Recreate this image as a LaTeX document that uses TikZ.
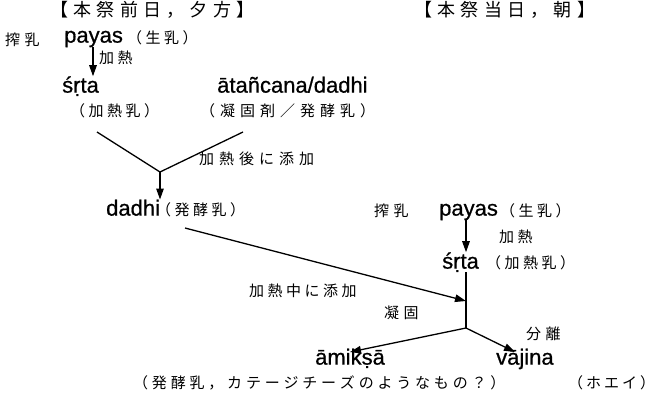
\documentclass[tikz,border=0pt]{standalone}
\usepackage{fontspec}
\setmainfont{Liberation Sans}
\newfontfamily\latfont[FakeBold=0.7]{Liberation Sans}
\newfontfamily\jpfont{Noto Sans CJK JP}
\usetikzlibrary{arrows.meta}
\newcommand\spgap{0pt}
\def\sploopA#1{#1\sploopB}
\def\sploopB#1{\ifx#1\relax\else\hspace{\spgap}#1\expandafter\sploopB\fi}
\newcommand\jsp[2]{\renewcommand\spgap{#2}\sploopA#1\relax}
\tikzset{
  lat/.style={font=\latfont\fontsize{22}{22}\selectfont, inner sep=0pt, anchor=mid west},
  jp/.style={font=\jpfont\fontsize{15}{15}\selectfont, inner sep=0pt, anchor=mid west},
  ttl/.style={font=\jpfont\fontsize{18}{18}\selectfont, inner sep=0pt, anchor=mid west},
  conn/.style={line width=1.3pt},
  arr/.style={conn, -{Triangle[length=11pt,width=7.5pt]}},
}
\begin{document}
\begin{tikzpicture}[x=1pt,y=-1pt]
\useasboundingbox (0,0) rectangle (656,400);
% titles
\node[ttl] (t1) at (50,14) {\jsp{【本祭前日，夕方】}{5.3pt}};
\node[ttl] (t2) at (414,14) {\jsp{【本祭当日，朝】}{5.3pt}};
% left column
\node[jp] (m1) at (5,43) {\jsp{搾乳}{4.5pt}};
\node[lat] (p1) at (64,40) {payas};
\node[jp] (r1) at (127,41) {\jsp{（生乳）}{3.5pt}};
\node[jp] (h1) at (99,61) {\jsp{加熱}{3.5pt}};
\node[lat] (s1) at (62,90) {śṛta};
\node[jp] (k1) at (70,114) {\jsp{（加熱乳）}{3.5pt}};
\node[lat] (at) at (217,90) {ātañcana/dadhi};
\node[jp] (ag) at (200,114) {\jsp{（凝固剤／発酵乳）}{5pt}};
\coordinate (ya) at (97,132);
\coordinate (yb) at (243,132);
\coordinate (j1) at (160,172);
\node[jp] (ad1) at (199,162) {\jsp{加熱後に添加}{5pt}};
\node[lat] (dd) at (106,213) {dadhi};
\node[jp] (dg) at (156,213) {\jsp{（発酵乳）}{3.5pt}};
% right column
\node[jp] (m2) at (374,214) {\jsp{搾乳}{4.5pt}};
\node[lat] (p2) at (439,213) {payas};
\node[jp] (r2) at (500,214) {\jsp{（生乳）}{3.5pt}};
\node[jp] (h2) at (499,240) {\jsp{加熱}{3.5pt}};
\node[lat] (s2) at (442,266) {śṛta};
\node[jp] (k2) at (486,266) {\jsp{（加熱乳）}{3.5pt}};
\coordinate (j2) at (466,328);
\coordinate (vm) at (466,301);
\coordinate (d0) at (185,228);
\node[jp] (ad2) at (249,294) {\jsp{加熱中に添加}{3.5pt}};
\node[jp] (gk) at (384,316) {\jsp{凝固}{4.5pt}};
\node[jp] (br) at (526,337) {\jsp{分離}{4.5pt}};
\node[lat] (am) at (315,362) {āmikṣā};
\node[lat] (vj) at (496,362) {vājina};
\coordinate (amt) at (350,352);
\coordinate (vjt) at (515,352);
\node[jp] (bt1) at (133,386) {\jsp{（発酵乳，カテージチーズのようなもの？）}{3.8pt}};
\node[jp] (bt2) at (568,386) {\jsp{（ホエイ）}{3pt}};
% connectors
\draw[arr] (p1.south -| 93,0) -- (s1.north -| 93,0);
\draw[conn] (ya) -- (j1) -- (yb);
\draw[arr] (j1) -- (dd.north -| j1);
\draw[arr] (d0) -- (vm);
\draw[arr] (p2.south -| j2) -- (s2.north -| j2);
\draw[conn] (s2.south -| j2) -- (j2);
\draw[arr] (j2) -- (amt);
\draw[arr] (j2) -- (vjt);
\end{tikzpicture}
\end{document}
